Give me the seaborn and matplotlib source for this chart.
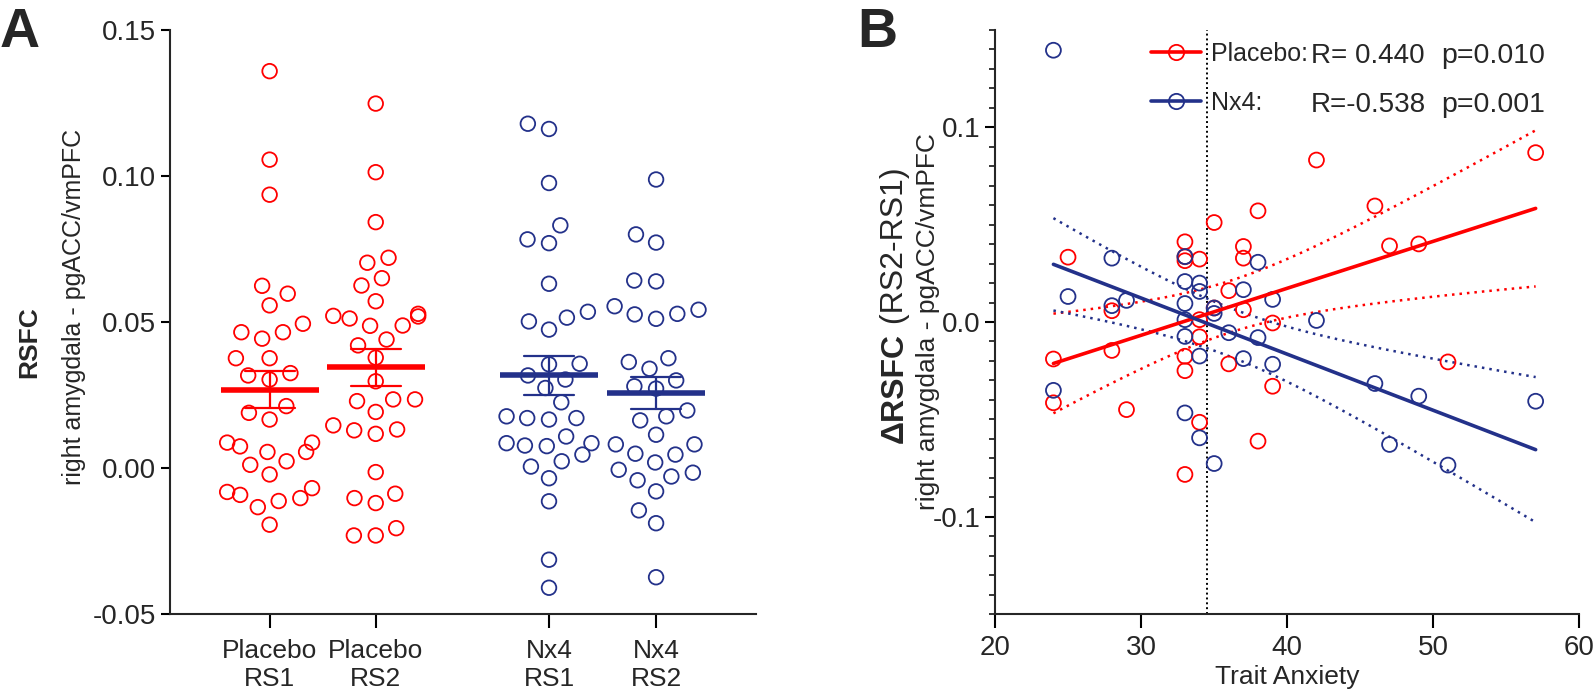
import numpy as np
import pandas as pd
import matplotlib
matplotlib.use("Agg")
import matplotlib.pyplot as plt
import seaborn as sns
import seaborn.categorical as sns_cat
from matplotlib.lines import Line2D
from matplotlib.ticker import MultipleLocator, FormatStrFormatter, FixedLocator

# ---------------- data ----------------
group_labels = ["Placebo\nRS1", "Placebo\nRS2", "Nx4\nRS1", "Nx4\nRS2"]
group_drug = ["Placebo", "Placebo", "Nx4", "Nx4"]

placebo_rs1 = [0.1359, 0.1056, 0.0936, 0.0624, 0.0597, 0.0557, 0.0494, 0.0465, 0.0465, 0.0443,
               0.0376, 0.0376, 0.0325, 0.0317, 0.0303, 0.0212, 0.0189, 0.0166, 0.0087, 0.0087,
               0.0074, 0.0055, 0.0055, 0.0023, 0.0011, -0.0022, -0.0069, -0.0082, -0.0092, -0.0103,
               -0.0113, -0.0134, -0.0194]
placebo_rs2 = [0.1248, 0.1013, 0.0842, 0.0720, 0.0703, 0.0650, 0.0625, 0.0571, 0.0528, 0.0521,
               0.0519, 0.0512, 0.0487, 0.0488, 0.0440, 0.0420, 0.0378, 0.0297, 0.0235, 0.0235,
               0.0229, 0.0192, 0.0132, 0.0146, 0.0117, 0.0129, -0.0014, -0.0088, -0.0103, -0.0120,
               -0.0206, -0.0231, -0.0231]
nx4_rs1 = [0.1161, 0.1179, 0.0976, 0.0831, 0.0770, 0.0783, 0.0631, 0.0515, 0.0535, 0.0502,
           0.0474, 0.0355, 0.0357, 0.0317, 0.0303, 0.0274, 0.0225, 0.0171, 0.0171, 0.0177,
           0.0166, 0.0108, 0.0085, 0.0075, 0.0085, 0.0077, 0.0046, 0.0023, 0.0005, -0.0035,
           -0.0114, -0.0314, -0.0410]
nx4_rs2 = [0.0988, 0.0800, 0.0772, 0.0642, 0.0639, 0.0554, 0.0526, 0.0528, 0.0511, 0.0542,
           0.0376, 0.0363, 0.0340, 0.0300, 0.0280, 0.0272, 0.0197, 0.0177, 0.0163, 0.0114,
           0.0081, 0.0081, 0.0049, 0.0046, 0.0019, -0.0006, -0.0029, -0.0016, -0.0042, -0.0080,
           -0.0145, -0.0189, -0.0374]

placebo_anxiety = [24, 24, 25, 28, 28, 29, 33, 33, 33, 33, 33, 33, 34, 34, 34, 34, 35, 35, 36, 36,
                   37, 37, 37, 38, 38, 39, 39, 42, 46, 47, 49, 51, 57]
placebo_delta = [-0.0190, -0.0415, 0.0333, 0.0058, -0.0146, -0.0450, 0.0412, 0.0335, 0.0315, -0.0176,
                 -0.0250, -0.0783, 0.0323, 0.0012, -0.0076, -0.0515, 0.0511, 0.0072, 0.0161, -0.0215,
                 0.0388, 0.0328, 0.0063, 0.0571, -0.0612, -0.0005, -0.0330, 0.0832, 0.0596, 0.0391,
                 0.0401, -0.0205, 0.0870]
nx4_anxiety = [24, 24, 25, 28, 28, 29, 33, 33, 33, 33, 33, 33, 34, 34, 34, 34, 35, 35, 35, 36,
               37, 37, 38, 38, 39, 39, 42, 46, 47, 49, 51, 57]
nx4_delta = [0.1396, -0.0351, 0.0131, 0.0328, 0.0084, 0.0111, 0.0336, 0.0208, 0.0095, 0.0012,
             -0.0074, -0.0467, 0.0200, 0.0157, -0.0175, -0.0595, 0.0072, 0.0044, -0.0727, -0.0055,
             0.0166, -0.0188, 0.0307, -0.0080, 0.0116, -0.0217, 0.0008, -0.0316, -0.0629, -0.0381,
             -0.0735, -0.0407]

anxiety_median = 34.5
legend_names = ["Placebo:", "Nx4:"]
legend_r = ["R= 0.440", "R=-0.538"]
legend_p = ["p=0.010", "p=0.001"]

# ---------------- style ----------------
RED = "#ff0000"
BLUE = "#23318a"
palette = {"Placebo": RED, "Nx4": BLUE}
group_pos = [1.0, 2.0, 3.633, 4.642]   # layout of the categories on the x axis

# give the swarm a little more room between neighbouring circles (layout only)
if hasattr(sns_cat, "Beeswarm"):
    _orig_swarm = sns_cat.Beeswarm.__call__

    def _spaced_swarm(self, points, center):
        s = points.get_sizes().copy()
        points.set_sizes(s * 1.7)
        try:
            _orig_swarm(self, points, center)
        finally:
            points.set_sizes(s)

    sns_cat.Beeswarm.__call__ = _spaced_swarm

sns.set_theme(style="ticks")
plt.rcParams["font.family"] = ["Liberation Sans", "DejaVu Sans"]
plt.rcParams["axes.unicode_minus"] = False
plt.rcParams["axes.linewidth"] = 1.5
plt.rcParams["xtick.major.width"] = 1.5
plt.rcParams["ytick.major.width"] = 1.5
plt.rcParams["ytick.minor.width"] = 1.3

TICK_FS = 20

fig = plt.figure(figsize=(15.94, 6.91), dpi=100)
axA = fig.add_axes([0.1064, 0.1114, 0.3679, 0.8452])
axB = fig.add_axes([0.6242, 0.1114, 0.3667, 0.8452])

# ---------------- Panel A ----------------
rows = []
for lab, drug, pos, vals in zip(group_labels, group_drug, group_pos,
                                [placebo_rs1, placebo_rs2, nx4_rs1, nx4_rs2]):
    for v in vals:
        rows.append({"group": lab, "drug": drug, "pos": pos, "value": v})
df_a = pd.DataFrame(rows)

sns.swarmplot(data=df_a, x="pos", y="value", hue="drug", palette=palette, native_scale=True,
              orient="x", size=10.5, linewidth=1.3, legend=False, warn_thresh=1, ax=axA)
for coll in axA.collections:
    fc = coll.get_facecolor()
    coll.set_edgecolor(fc)
    coll.set_facecolor("none")

sns.pointplot(data=df_a, x="pos", y="value", hue="drug", palette=palette, native_scale=True,
              orient="x", errorbar=("se", 1), capsize=0.47, markers="_", markersize=71,
              markeredgewidth=4, linestyle="none", dodge=False, err_kws={"linewidth": 1.6},
              legend=False, ax=axA)

axA.set_xlim(0.0575, 5.584)
axA.set_ylim(-0.05, 0.15)
axA.set_xticks(group_pos)
axA.set_xticklabels(group_labels, fontsize=19)
axA.yaxis.set_major_locator(MultipleLocator(0.05))
axA.yaxis.set_major_formatter(FormatStrFormatter("%.2f"))
axA.tick_params(axis="y", labelsize=TICK_FS, length=6.5, direction="out", color="black")
axA.tick_params(axis="x", length=10, pad=8, direction="out", color="black")
axA.set_xlabel("")
axA.set_ylabel("")
sns.despine(ax=axA)

# ---------------- Panel B ----------------
df_b = pd.DataFrame({
    "anxiety": placebo_anxiety + nx4_anxiety,
    "delta": placebo_delta + nx4_delta,
    "drug": ["Placebo"] * len(placebo_anxiety) + ["Nx4"] * len(nx4_anxiety),
})
sns.scatterplot(data=df_b, x="anxiety", y="delta", hue="drug", palette=palette, s=115,
                linewidth=1.3, legend=False, ax=axB, zorder=3)
for coll in axB.collections:
    fc = coll.get_facecolor()
    coll.set_edgecolor(fc)
    coll.set_facecolor("none")

T_CRIT = 2.04  # t(0.975, ~31 df)
for drug, xs_, ys_ in [("Placebo", placebo_anxiety, placebo_delta), ("Nx4", nx4_anxiety, nx4_delta)]:
    c = palette[drug]
    sns.regplot(x=xs_, y=ys_, scatter=False, ci=None, color=c, truncate=True,
                line_kws={"linewidth": 2.6, "zorder": 4}, ax=axB)
    x = np.asarray(xs_, float)
    y = np.asarray(ys_, float)
    n = len(x)
    b, a = np.polyfit(x, y, 1)
    grid = np.linspace(x.min(), x.max(), 100)
    fit = a + b * grid
    s = np.sqrt(np.sum((y - (a + b * x)) ** 2) / (n - 2))
    se = s * np.sqrt(1 / n + (grid - x.mean()) ** 2 / np.sum((x - x.mean()) ** 2))
    for sign in (-1, 1):
        axB.plot(grid, fit + sign * T_CRIT * se, color=c, linestyle=(0, (1, 2)),
                 linewidth=1.8, zorder=2)

axB.axvline(anxiety_median, color="black", linestyle=(0, (1, 1.5)), linewidth=1.4, zorder=1)

axB.set_xlim(20, 60)
axB.set_ylim(-0.15, 0.15)
axB.xaxis.set_major_locator(MultipleLocator(10))
axB.yaxis.set_major_locator(FixedLocator([-0.1, 0.0, 0.1]))
axB.yaxis.set_minor_locator(MultipleLocator(0.01))
axB.yaxis.set_major_formatter(FormatStrFormatter("%.1f"))
axB.tick_params(axis="both", labelsize=TICK_FS, direction="out", color="black")
axB.tick_params(axis="x", length=10, pad=5)
axB.tick_params(axis="y", which="major", length=7)
axB.tick_params(axis="y", which="minor", length=4, left=True)
axB.set_xlabel("Trait Anxiety", fontsize=19, labelpad=3)
axB.set_ylabel("")
sns.despine(ax=axB)

handles = [Line2D([0], [0], color=palette[d], linewidth=2.6, marker="o", markersize=11,
                  markerfacecolor="none", markeredgewidth=1.3) for d in ["Placebo", "Nx4"]]
axB.legend(handles, legend_names, loc="upper left", bbox_to_anchor=(0.25, 0.997), frameon=False,
           fontsize=18, handlelength=2.0, handletextpad=0.4, labelspacing=1.0, borderaxespad=0)
for i, (r, p) in enumerate(zip(legend_r, legend_p)):
    yy = 0.955 - i * 0.083
    axB.text(0.541, yy, r, transform=axB.transAxes, fontsize=20, va="center", ha="left")
    axB.text(0.763, yy, p, transform=axB.transAxes, fontsize=20.5, va="center", ha="left")

# ---------------- labels ----------------
fig.text(0.0, 0.99, "A", fontsize=40, fontweight="bold", va="top", ha="left")
fig.text(0.5375, 0.99, "B", fontsize=40, fontweight="bold", va="top", ha="left")

fig.text(29 / 1594, 1 - 342 / 691, "RSFC", rotation=90, fontsize=19, fontweight="bold",
         ha="center", va="center")
fig.text(74 / 1594, 1 - 307 / 691, "right amygdala - pgACC/vmPFC", rotation=90, fontsize=18,
         ha="center", va="center")

renderer = fig.canvas.get_renderer()
xb = 895 / 1594
t1 = fig.text(xb, 0.5, "\u0394RSFC", rotation=90, fontsize=23, fontweight="bold", ha="center", va="bottom")
t2 = fig.text(xb, 0.5, " (RS2-RS1)", rotation=90, fontsize=23, ha="center", va="bottom")
h1 = t1.get_window_extent(renderer).height / fig.bbox.height
h2 = t2.get_window_extent(renderer).height / fig.bbox.height
ycen = 1 - 305 / 691
start = ycen - (h1 + h2) / 2
t1.set_position((xb, start))
t2.set_position((xb, start + h1))
fig.text(928 / 1594, 1 - 322 / 691, "right amygdala - pgACC/vmPFC", rotation=90, fontsize=19,
         ha="center", va="center")

fig.savefig("out.png", dpi=100)
